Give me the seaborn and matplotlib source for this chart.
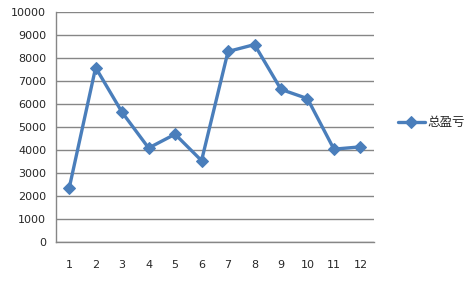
import matplotlib
matplotlib.use("Agg")
import matplotlib.pyplot as plt
import seaborn as sns
import pandas as pd
import numpy as np

months = ["1", "2", "3", "4", "5", "6", "7", "8", "9", "10", "11", "12"]
profit = [2350, 7600, 5650, 4100, 4700, 3550, 8300, 8600, 6650, 6250, 4050, 4150]
series_name = "总盈亏"
yticks = list(range(0, 10001, 1000))

sns.set_style("white")
plt.rcParams['font.family'] = ['Noto Sans CJK SC', 'DejaVu Sans']

df = pd.DataFrame({"x": np.arange(len(months)), "y": profit, "s": series_name})

fig = plt.figure(figsize=(4.7, 2.82), dpi=100)
ax = fig.add_axes([0.119, 0.141, 0.676, 0.815])
grid_c = "#868686"
line_c = "#4A7EBB"

sns.lineplot(data=df, x="x", y="y", hue="s", palette=[line_c], marker="D",
             markersize=6, linewidth=2.4, markeredgecolor=line_c, ax=ax)

ax.set_xlim(-0.5, len(months) - 0.5)
ax.set_ylim(0, 10000)
ax.set_yticks(yticks)
ax.set_yticklabels([str(v) for v in yticks], fontsize=8, family='DejaVu Sans')
ax.set_xticks(np.arange(len(months)))
ax.set_xticklabels(months, fontsize=8, family='DejaVu Sans')
ax.set_xticks(np.arange(len(months) + 1) - 0.5, minor=True)
ax.tick_params(axis='x', which='major', length=0, pad=13)
ax.tick_params(axis='x', which='minor', length=5, color=grid_c, width=1)
ax.tick_params(axis='y', length=4, color=grid_c, width=1, pad=3)
ax.yaxis.grid(True, color=grid_c, linewidth=1)
ax.set_axisbelow(True)
for side in ["top", "right"]:
    ax.spines[side].set_visible(False)
for side in ["left", "bottom"]:
    ax.spines[side].set_color(grid_c)
    ax.spines[side].set_linewidth(1)
ax.set_xlabel("")
ax.set_ylabel("")

leg = ax.legend(loc="center left", bbox_to_anchor=(1.04, 0.52), frameon=False,
                fontsize=9, handlelength=2.2, handletextpad=0.2)
for t in leg.get_texts():
    t.set_text(series_name)

fig.savefig("out.png", dpi=100)
